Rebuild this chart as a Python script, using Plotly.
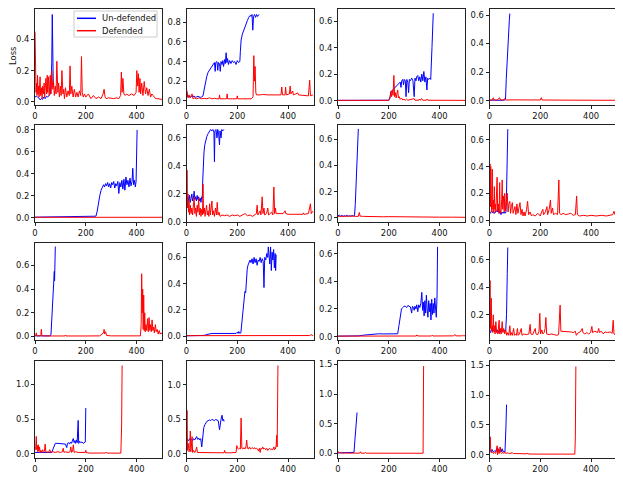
import plotly.graph_objects as go

# training loss per iteration, (iteration, loss) pairs
# u = un-defended model, d = defended model, one pair per panel (row-major)

u1 = [(0, 0.03), (5, 0.035), (10, 0.03), (15, 0.025), (20, 0.012), (25, 0.02), (30, 0.015), (35, 0.03),
      (40, 0.02), (45, 0.035), (50, 0.03), (55, 0.04), (60, 0.05), (63, 0.1), (66, 0.25), (68, 0.56),
      (70, 0.2), (72, 0.1)]
d1 = [(0, 0.45), (2, 0.2), (4, 0.06), (6, 0.12), (8, 0.04), (10, 0.17), (12, 0.05), (14, 0.1), (16, 0.03),
      (18, 0.08), (20, 0.16), (22, 0.04), (25, 0.09), (28, 0.02), (30, 0.1), (33, 0.05), (36, 0.12),
      (38, 0.03), (40, 0.07), (43, 0.15), (46, 0.05), (48, 0.17), (50, 0.06), (53, 0.16), (56, 0.04),
      (58, 0.12), (60, 0.17), (63, 0.05), (66, 0.2), (70, 0.08), (73, 0.13), (76, 0.04), (80, 0.1),
      (83, 0.05), (86, 0.26), (90, 0.06), (93, 0.12), (96, 0.03), (100, 0.1), (103, 0.04), (106, 0.2),
      (110, 0.05), (113, 0.08), (116, 0.02), (120, 0.09), (125, 0.03), (130, 0.07), (135, 0.04),
      (138, 0.23), (141, 0.05), (145, 0.1), (150, 0.03), (155, 0.08), (160, 0.03), (165, 0.06),
      (170, 0.03), (175, 0.07), (180, 0.04), (183, 0.29), (186, 0.06), (190, 0.03), (195, 0.05),
      (200, 0.03), (210, 0.05), (220, 0.02), (230, 0.04), (240, 0.02), (250, 0.03), (260, 0.02),
      (268, 0.05), (272, 0.08), (276, 0.03), (280, 0.02), (290, 0.025), (300, 0.02), (310, 0.02),
      (320, 0.025), (330, 0.02), (337, 0.04), (340, 0.19), (343, 0.06), (346, 0.15), (350, 0.05),
      (355, 0.04), (360, 0.05), (370, 0.04), (380, 0.05), (390, 0.04), (398, 0.06), (401, 0.2),
      (404, 0.1), (407, 0.18), (410, 0.06), (413, 0.15), (416, 0.05), (420, 0.12), (425, 0.04),
      (430, 0.13), (435, 0.05), (440, 0.09), (445, 0.04), (450, 0.08), (455, 0.03), (460, 0.05),
      (465, 0.04), (470, 0.03), (475, 0.02), (480, 0.02), (490, 0.015), (500, 0.015)]

u2 = [(0, 0.1), (2, 0.05), (5, 0.04), (10, 0.05), (15, 0.035), (20, 0.045), (25, 0.04), (30, 0.05),
      (35, 0.035), (40, 0.04), (45, 0.045), (50, 0.04), (55, 0.035), (60, 0.04), (65, 0.05), (70, 0.12),
      (75, 0.2), (80, 0.25), (85, 0.29), (90, 0.31), (95, 0.34), (100, 0.36), (105, 0.38), (110, 0.39),
      (113, 0.3), (115, 0.39), (120, 0.4), (123, 0.31), (126, 0.39), (130, 0.38), (133, 0.3), (136, 0.4),
      (140, 0.37), (143, 0.41), (146, 0.35), (150, 0.42), (153, 0.38), (156, 0.49), (159, 0.39),
      (162, 0.43), (165, 0.37), (170, 0.41), (175, 0.38), (180, 0.41), (185, 0.39), (190, 0.4),
      (195, 0.37), (200, 0.41), (205, 0.39), (210, 0.4), (212, 0.5), (215, 0.62), (220, 0.68),
      (225, 0.72), (230, 0.75), (235, 0.8), (240, 0.82), (245, 0.85), (250, 0.87), (255, 0.86),
      (258, 0.88), (261, 0.72), (264, 0.86), (268, 0.88), (272, 0.85), (276, 0.88), (280, 0.86),
      (285, 0.88)]
d2 = [(0, 0.12), (3, 0.04), (6, 0.03), (10, 0.06), (14, 0.03), (18, 0.05), (22, 0.07), (26, 0.02),
      (30, 0.03), (40, 0.02), (50, 0.03), (60, 0.02), (70, 0.025), (80, 0.02), (90, 0.03), (100, 0.02),
      (110, 0.025), (120, 0.02), (128, 0.02), (130, 0.06), (132, 0.02), (150, 0.02), (158, 0.02),
      (160, 0.07), (162, 0.02), (180, 0.02), (198, 0.02), (200, 0.05), (202, 0.02), (220, 0.02),
      (240, 0.02), (255, 0.02), (262, 0.04), (265, 0.46), (268, 0.2), (270, 0.35), (273, 0.08),
      (276, 0.06), (290, 0.06), (300, 0.065), (320, 0.06), (340, 0.06), (360, 0.055), (372, 0.06),
      (375, 0.14), (378, 0.06), (388, 0.06), (390, 0.14), (393, 0.06), (405, 0.07), (408, 0.15),
      (411, 0.07), (418, 0.1), (421, 0.06), (430, 0.07), (438, 0.08), (441, 0.06), (460, 0.055),
      (470, 0.05), (480, 0.05), (485, 0.21), (488, 0.05), (495, 0.06), (500, 0.05)]

u3 = [(0, 0.002), (50, 0.002), (100, 0.002), (140, 0.004), (180, 0.002), (200, 0.003), (205, 0.03),
      (210, 0.07), (215, 0.08), (220, 0.09), (225, 0.1), (230, 0.11), (235, 0.12), (240, 0.13),
      (245, 0.14), (248, 0.1), (251, 0.15), (255, 0.16), (258, 0.12), (261, 0.16), (265, 0.15),
      (268, 0.03), (271, 0.16), (275, 0.14), (278, 0.06), (281, 0.16), (285, 0.15), (290, 0.17),
      (295, 0.15), (300, 0.03), (303, 0.17), (307, 0.15), (310, 0.18), (314, 0.19), (318, 0.15),
      (322, 0.18), (326, 0.14), (330, 0.2), (334, 0.15), (338, 0.22), (342, 0.14), (346, 0.18),
      (350, 0.08), (353, 0.17), (357, 0.16), (362, 0.17), (365, 0.16), (370, 0.4), (375, 0.66)]
d3 = [(0, 0.002), (100, 0.002), (200, 0.002), (205, 0.02), (208, 0.07), (211, 0.03), (214, 0.08),
      (217, 0.04), (220, 0.19), (223, 0.03), (226, 0.06), (229, 0.02), (232, 0.05), (235, 0.08),
      (238, 0.02), (241, 0.03), (245, 0.01), (250, 0.02), (255, 0.005), (260, 0.01), (265, 0.003),
      (270, 0.012), (275, 0.003), (300, 0.015), (303, 0.003), (318, 0.003), (320, 0.012), (323, 0.003),
      (330, 0.015), (333, 0.003), (348, 0.003), (350, 0.012), (353, 0.003), (400, 0.002), (500, 0.002)]

u4 = [(0, 0.003), (10, 0.002), (20, 0.004), (30, 0.002), (40, 0.003), (50, 0.002), (60, 0.003),
      (63, 0.01), (66, 0.15), (70, 0.32), (74, 0.45), (78, 0.56), (80, 0.61)]
d4 = [(0, 0.003), (10, 0.004), (15, 0.02), (18, 0.004), (30, 0.004), (40, 0.02), (43, 0.004),
      (55, 0.005), (60, 0.015), (63, 0.004), (100, 0.005), (150, 0.004), (200, 0.004), (204, 0.02),
      (207, 0.004), (300, 0.003), (400, 0.003), (500, 0.002)]

u5 = [(0, 0.004), (50, 0.005), (100, 0.008), (150, 0.01), (200, 0.011), (230, 0.012), (240, 0.013),
      (245, 0.06), (250, 0.15), (255, 0.2), (260, 0.25), (265, 0.27), (270, 0.3), (274, 0.28),
      (278, 0.31), (282, 0.29), (286, 0.32), (290, 0.28), (294, 0.31), (298, 0.27), (302, 0.32),
      (306, 0.3), (310, 0.33), (314, 0.27), (318, 0.31), (322, 0.29), (326, 0.33), (330, 0.22),
      (334, 0.32), (338, 0.28), (342, 0.34), (346, 0.26), (350, 0.35), (354, 0.25), (358, 0.37),
      (362, 0.3), (366, 0.34), (370, 0.28), (374, 0.36), (378, 0.29), (382, 0.33), (385, 0.45),
      (388, 0.3), (392, 0.34), (395, 0.28), (398, 0.33), (400, 0.55), (402, 0.8)]
d5 = [(0, 0.003), (100, 0.003), (200, 0.003), (300, 0.003), (400, 0.003), (500, 0.003)]

u6 = [(0, 0.17), (3, 0.13), (6, 0.18), (9, 0.15), (12, 0.19), (15, 0.14), (18, 0.17), (21, 0.2),
      (24, 0.15), (27, 0.17), (30, 0.22), (33, 0.16), (36, 0.18), (39, 0.15), (42, 0.19), (45, 0.16),
      (48, 0.18), (51, 0.15), (54, 0.17), (57, 0.14), (60, 0.18), (62, 0.17), (64, 0.3), (66, 0.42),
      (69, 0.5), (72, 0.55), (76, 0.59), (80, 0.61), (85, 0.63), (90, 0.65), (95, 0.66), (100, 0.65),
      (104, 0.66), (108, 0.64), (110, 0.43), (112, 0.65), (116, 0.66), (120, 0.6), (123, 0.66),
      (126, 0.64), (130, 0.55), (132, 0.65), (136, 0.6), (139, 0.66), (143, 0.65), (147, 0.66)]
d6 = [(0, 0.12), (2, 0.37), (4, 0.1), (6, 0.2), (8, 0.07), (10, 0.15), (12, 0.05), (15, 0.12), (18, 0.06),
      (21, 0.1), (24, 0.05), (27, 0.14), (30, 0.18), (33, 0.06), (36, 0.1), (39, 0.04), (42, 0.12),
      (45, 0.07), (48, 0.17), (51, 0.05), (54, 0.1), (57, 0.04), (60, 0.09), (63, 0.05), (65, 0.27),
      (67, 0.06), (70, 0.1), (73, 0.04), (76, 0.08), (79, 0.12), (82, 0.05), (85, 0.08), (88, 0.04),
      (91, 0.13), (94, 0.05), (97, 0.1), (100, 0.15), (103, 0.05), (106, 0.08), (110, 0.04), (114, 0.1),
      (118, 0.05), (121, 0.14), (124, 0.05), (128, 0.07), (132, 0.04), (140, 0.05), (150, 0.045),
      (160, 0.05), (170, 0.04), (180, 0.05), (190, 0.045), (200, 0.05), (210, 0.04), (220, 0.05),
      (230, 0.06), (240, 0.045), (250, 0.05), (260, 0.04), (270, 0.05), (275, 0.06), (278, 0.12),
      (281, 0.05), (290, 0.08), (293, 0.05), (298, 0.18), (301, 0.06), (305, 0.1), (308, 0.05),
      (315, 0.06), (320, 0.1), (323, 0.05), (330, 0.06), (335, 0.07), (340, 0.05), (344, 0.25),
      (347, 0.06), (350, 0.1), (353, 0.06), (360, 0.06), (370, 0.055), (380, 0.06), (388, 0.08),
      (391, 0.06), (400, 0.055), (420, 0.055), (440, 0.06), (458, 0.055), (460, 0.065), (463, 0.055),
      (480, 0.06), (488, 0.13), (491, 0.06), (495, 0.075), (500, 0.07)]

u7 = [(0, 0.015), (5, 0.02), (10, 0.012), (15, 0.018), (20, 0.01), (25, 0.016), (30, 0.012), (35, 0.018),
      (40, 0.011), (45, 0.015), (50, 0.012), (55, 0.016), (60, 0.013), (65, 0.015), (68, 0.1),
      (72, 0.35), (76, 0.55), (80, 0.68)]
d7 = [(0, 0.01), (20, 0.012), (40, 0.01), (60, 0.012), (70, 0.01), (80, 0.01), (84, 0.04), (87, 0.012),
      (100, 0.01), (120, 0.008), (150, 0.009), (180, 0.007), (200, 0.008), (250, 0.006), (300, 0.005),
      (350, 0.005), (400, 0.004), (450, 0.004), (500, 0.003)]

u8 = [(0, 0.06), (4, 0.05), (8, 0.07), (12, 0.055), (16, 0.065), (20, 0.05), (24, 0.06), (28, 0.07),
      (32, 0.06), (35, 0.09), (38, 0.05), (41, 0.07), (45, 0.04), (49, 0.06), (53, 0.05), (57, 0.06),
      (61, 0.05), (65, 0.06), (67, 0.2), (70, 0.5), (72, 0.68)]
d8 = [(0, 0.1), (2, 0.42), (4, 0.1), (5, 0.4), (7, 0.14), (9, 0.06), (11, 0.38), (13, 0.08), (15, 0.15),
      (17, 0.05), (19, 0.25), (21, 0.08), (23, 0.12), (25, 0.06), (27, 0.15), (30, 0.32), (32, 0.07),
      (35, 0.12), (38, 0.05), (40, 0.28), (42, 0.06), (45, 0.05), (48, 0.15), (50, 0.3), (52, 0.08),
      (55, 0.18), (58, 0.06), (60, 0.2), (63, 0.07), (66, 0.12), (70, 0.2), (73, 0.06), (76, 0.12),
      (80, 0.14), (83, 0.05), (86, 0.1), (90, 0.13), (93, 0.05), (96, 0.08), (100, 0.1), (104, 0.04),
      (108, 0.12), (112, 0.05), (116, 0.08), (120, 0.13), (124, 0.04), (128, 0.08), (132, 0.03),
      (136, 0.06), (140, 0.03), (146, 0.08), (150, 0.14), (154, 0.04), (160, 0.06), (165, 0.03),
      (170, 0.04), (180, 0.03), (190, 0.05), (200, 0.03), (205, 0.06), (210, 0.08), (213, 0.04),
      (220, 0.06), (226, 0.1), (229, 0.04), (235, 0.08), (240, 0.15), (243, 0.05), (248, 0.09),
      (252, 0.04), (260, 0.05), (268, 0.04), (273, 0.3), (276, 0.05), (282, 0.04), (290, 0.05),
      (300, 0.04), (310, 0.045), (320, 0.05), (330, 0.035), (338, 0.04), (343, 0.18), (346, 0.04),
      (355, 0.03), (370, 0.035), (385, 0.03), (400, 0.035), (420, 0.03), (440, 0.035), (460, 0.03),
      (475, 0.035), (485, 0.04), (490, 0.065), (494, 0.04), (500, 0.05)]

u9 = [(0, 0.005), (20, 0.004), (40, 0.005), (60, 0.005), (63, 0.02), (66, 0.15), (70, 0.3), (74, 0.48),
      (76, 0.55), (77, 0.47), (78, 0.56), (80, 0.76)]
d9 = [(0, 0.005), (3, 0.01), (5, 0.03), (7, 0.005), (20, 0.005), (23, 0.015), (25, 0.06), (27, 0.005),
      (60, 0.004), (100, 0.005), (118, 0.004), (120, 0.012), (122, 0.004), (200, 0.004), (255, 0.005),
      (260, 0.015), (265, 0.02), (270, 0.03), (272, 0.06), (274, 0.02), (278, 0.04), (282, 0.008),
      (300, 0.005), (350, 0.004), (400, 0.004), (415, 0.005), (418, 0.1), (420, 0.53), (422, 0.2),
      (424, 0.4), (426, 0.06), (428, 0.35), (430, 0.05), (432, 0.2), (434, 0.04), (437, 0.1),
      (440, 0.05), (443, 0.15), (446, 0.04), (449, 0.16), (452, 0.05), (455, 0.1), (458, 0.04),
      (461, 0.14), (464, 0.05), (467, 0.08), (470, 0.03), (474, 0.1), (477, 0.04), (481, 0.06),
      (485, 0.02), (489, 0.05), (493, 0.02), (497, 0.03), (500, 0.02)]

u10 = [(0, 0.002), (30, 0.002), (60, 0.003), (70, 0.005), (80, 0.012), (90, 0.018), (100, 0.02),
       (120, 0.02), (140, 0.021), (160, 0.02), (180, 0.021), (195, 0.02), (200, 0.03), (203, 0.02),
       (206, 0.035), (210, 0.02), (214, 0.025), (218, 0.12), (222, 0.2), (226, 0.28), (230, 0.34),
       (233, 0.33), (236, 0.45), (239, 0.51), (242, 0.54), (246, 0.56), (250, 0.58), (254, 0.56),
       (258, 0.59), (262, 0.55), (266, 0.6), (270, 0.56), (274, 0.59), (278, 0.54), (282, 0.58),
       (286, 0.57), (290, 0.6), (294, 0.56), (298, 0.59), (302, 0.57), (305, 0.37), (308, 0.6),
       (312, 0.58), (316, 0.63), (320, 0.6), (322, 0.68), (325, 0.6), (328, 0.55), (331, 0.68),
       (334, 0.5), (337, 0.64), (340, 0.58), (343, 0.66), (346, 0.52), (349, 0.63), (351, 0.5),
       (353, 0.62)]
d10 = [(0, 0.003), (100, 0.003), (200, 0.003), (300, 0.003), (400, 0.003), (485, 0.004), (490, 0.012),
       (495, 0.004), (500, 0.006)]

u11 = [(0, 0.003), (40, 0.003), (80, 0.005), (100, 0.01), (120, 0.015), (140, 0.018), (160, 0.02),
       (180, 0.019), (200, 0.02), (220, 0.019), (235, 0.02), (240, 0.08), (245, 0.15), (250, 0.2),
       (255, 0.21), (260, 0.22), (265, 0.22), (270, 0.21), (275, 0.225), (280, 0.22), (285, 0.215),
       (290, 0.17), (293, 0.22), (297, 0.21), (300, 0.19), (303, 0.22), (307, 0.2), (310, 0.23),
       (314, 0.18), (318, 0.23), (322, 0.21), (326, 0.24), (330, 0.32), (333, 0.19), (336, 0.25),
       (339, 0.15), (342, 0.26), (345, 0.17), (348, 0.3), (351, 0.2), (354, 0.14), (357, 0.26),
       (360, 0.18), (363, 0.24), (366, 0.12), (369, 0.27), (372, 0.16), (375, 0.24), (378, 0.17),
       (381, 0.28), (384, 0.2), (387, 0.14), (390, 0.3), (392, 0.65)]
d11 = [(0, 0.003), (100, 0.003), (200, 0.003), (300, 0.004), (308, 0.004), (311, 0.012), (314, 0.004),
       (368, 0.004), (371, 0.01), (374, 0.004), (455, 0.005), (460, 0.015), (464, 0.005), (488, 0.005),
       (491, 0.01), (495, 0.005), (500, 0.006)]

u12 = [(0, 0.08), (4, 0.07), (8, 0.1), (12, 0.08), (16, 0.09), (20, 0.075), (24, 0.1), (28, 0.08),
       (32, 0.09), (36, 0.07), (40, 0.085), (44, 0.075), (48, 0.09), (52, 0.08), (56, 0.09), (60, 0.08),
       (64, 0.09), (67, 0.2), (70, 0.5), (72, 0.69)]
d12 = [(0, 0.1), (2, 0.45), (4, 0.1), (6, 0.2), (7, 0.32), (9, 0.08), (11, 0.12), (13, 0.07), (15, 0.2),
       (17, 0.08), (20, 0.12), (22, 0.06), (25, 0.15), (28, 0.07), (30, 0.08), (33, 0.06), (36, 0.12),
       (38, 0.16), (40, 0.06), (43, 0.1), (46, 0.06), (50, 0.15), (53, 0.07), (56, 0.1), (60, 0.06),
       (64, 0.09), (68, 0.05), (72, 0.07), (76, 0.05), (80, 0.12), (83, 0.05), (86, 0.07), (90, 0.05),
       (95, 0.1), (98, 0.05), (102, 0.06), (106, 0.05), (110, 0.1), (113, 0.05), (118, 0.06), (125, 0.1),
       (128, 0.05), (135, 0.06), (145, 0.055), (155, 0.06), (160, 0.13), (163, 0.06), (170, 0.055),
       (180, 0.1), (183, 0.06), (190, 0.055), (195, 0.08), (198, 0.21), (201, 0.06), (206, 0.09),
       (210, 0.06), (215, 0.07), (219, 0.1), (222, 0.18), (225, 0.06), (235, 0.055), (245, 0.06),
       (255, 0.055), (265, 0.05), (272, 0.055), (278, 0.27), (281, 0.08), (290, 0.08), (300, 0.075),
       (310, 0.08), (320, 0.075), (330, 0.07), (338, 0.08), (342, 0.05), (350, 0.07), (358, 0.075),
       (365, 0.1), (368, 0.07), (375, 0.06), (383, 0.07), (390, 0.06), (398, 0.07), (403, 0.115),
       (406, 0.07), (415, 0.08), (425, 0.07), (430, 0.1), (433, 0.07), (440, 0.08), (448, 0.06),
       (455, 0.075), (465, 0.07), (475, 0.075), (483, 0.065), (487, 0.16), (490, 0.06), (495, 0.055),
       (500, 0.05)]

u13 = [(0, 0.02), (10, 0.02), (20, 0.02), (30, 0.02), (40, 0.02), (50, 0.02), (60, 0.02), (66, 0.02),
       (70, 0.06), (75, 0.12), (80, 0.15), (90, 0.15), (100, 0.15), (110, 0.14), (115, 0.15), (120, 0.14),
       (125, 0.09), (128, 0.15), (132, 0.16), (136, 0.14), (140, 0.17), (144, 0.15), (148, 0.2),
       (151, 0.22), (154, 0.16), (157, 0.19), (160, 0.15), (163, 0.2), (166, 0.16), (170, 0.48),
       (172, 0.15), (176, 0.18), (180, 0.16), (185, 0.17), (190, 0.15), (195, 0.16), (198, 0.17),
       (200, 0.66)]
d13 = [(0, 0.05), (3, 0.1), (5, 0.25), (7, 0.06), (9, 0.12), (11, 0.03), (13, 0.13), (15, 0.04),
       (18, 0.1), (20, 0.02), (23, 0.05), (26, 0.02), (30, 0.06), (33, 0.02), (37, 0.04), (40, 0.14),
       (43, 0.02), (48, 0.03), (53, 0.02), (58, 0.06), (62, 0.02), (70, 0.03), (80, 0.02), (90, 0.03),
       (100, 0.02), (108, 0.03), (111, 0.08), (114, 0.02), (120, 0.03), (130, 0.02), (138, 0.03),
       (141, 0.1), (144, 0.02), (148, 0.04), (151, 0.13), (154, 0.02), (160, 0.03), (170, 0.02),
       (180, 0.02), (190, 0.02), (198, 0.02), (200, 0.05), (203, 0.015), (220, 0.01), (240, 0.012),
       (260, 0.01), (278, 0.012), (281, 0.025), (284, 0.01), (300, 0.01), (320, 0.012), (338, 0.01),
       (341, 0.4), (343, 1.27)]

u14 = [(0, 0.2), (4, 0.21), (8, 0.19), (12, 0.22), (16, 0.2), (20, 0.21), (24, 0.19), (28, 0.22),
       (32, 0.2), (36, 0.23), (40, 0.25), (44, 0.21), (48, 0.23), (52, 0.2), (56, 0.22), (60, 0.1),
       (62, 0.2), (65, 0.3), (68, 0.38), (72, 0.42), (76, 0.45), (80, 0.47), (85, 0.48), (90, 0.49),
       (95, 0.48), (100, 0.5), (105, 0.49), (110, 0.48), (115, 0.5), (120, 0.49), (125, 0.48),
       (130, 0.35), (133, 0.49), (136, 0.5), (140, 0.56), (143, 0.48), (146, 0.5), (148, 0.47)]
d14 = [(0, 0.1), (2, 0.63), (4, 0.05), (7, 0.15), (10, 0.03), (13, 0.08), (15, 0.33), (17, 0.03),
       (19, 0.1), (22, 0.25), (24, 0.02), (28, 0.05), (32, 0.02), (36, 0.04), (40, 0.1), (43, 0.02),
       (50, 0.02), (60, 0.015), (70, 0.02), (80, 0.015), (90, 0.02), (100, 0.015), (110, 0.02),
       (120, 0.015), (130, 0.015), (140, 0.02), (148, 0.015), (150, 0.05), (152, 0.015), (170, 0.015),
       (185, 0.015), (195, 0.02), (198, 0.12), (201, 0.08), (205, 0.07), (209, 0.08), (212, 0.07),
       (215, 0.52), (218, 0.08), (222, 0.07), (226, 0.09), (230, 0.07), (234, 0.1), (237, 0.2),
       (240, 0.08), (244, 0.07), (248, 0.1), (252, 0.07), (256, 0.08), (260, 0.09), (264, 0.07),
       (268, 0.09), (272, 0.07), (276, 0.08), (280, 0.07), (284, 0.04), (287, 0.08), (290, 0.02),
       (293, 0.08), (297, 0.07), (300, 0.1), (304, 0.07), (308, 0.08), (312, 0.06), (316, 0.08),
       (320, 0.05), (324, 0.07), (328, 0.08), (332, 0.06), (336, 0.07), (340, 0.06), (344, 0.1),
       (347, 0.06), (350, 0.07), (353, 0.12), (355, 0.27), (357, 0.1), (359, 0.5), (360, 1.28)]

u15 = [(0, 0.01), (10, 0.01), (20, 0.012), (30, 0.01), (40, 0.015), (50, 0.01), (60, 0.01), (63, 0.02),
       (67, 0.25), (71, 0.5), (75, 0.69)]
d15 = [(0, 0.04), (3, 0.01), (8, 0.02), (12, 0.008), (30, 0.008), (60, 0.006), (85, 0.006), (88, 0.03),
       (91, 0.006), (105, 0.006), (108, 0.02), (111, 0.006), (150, 0.005), (200, 0.005), (250, 0.005),
       (300, 0.005), (335, 0.005), (337, 1.47)]

u16 = [(0, 0.05), (4, 0.06), (8, 0.05), (10, 0.09), (13, 0.06), (17, 0.05), (21, 0.07), (25, 0.05),
       (28, 0.1), (30, 0.12), (33, 0.05), (36, 0.07), (40, 0.05), (43, 0.12), (46, 0.05), (50, 0.1),
       (53, 0.05), (57, 0.06), (61, 0.05), (63, 0.2), (65, 0.5), (67, 0.84)]
d16 = [(0, 0.05), (3, 0.3), (5, 0.05), (8, 0.03), (12, 0.05), (16, 0.02), (20, 0.04), (24, 0.02),
       (27, 0.06), (30, 0.15), (32, 0.0), (35, 0.1), (38, 0.02), (42, 0.13), (44, 0.04), (48, 0.02),
       (52, 0.04), (56, 0.02), (60, 0.05), (64, 0.02), (70, 0.03), (80, 0.02), (90, 0.035), (93, 0.02),
       (100, 0.02), (120, 0.015), (148, 0.015), (150, 0.03), (152, 0.012), (200, 0.01), (250, 0.01),
       (300, 0.01), (336, 0.01), (338, 0.3), (340, 1.48)]

UNDEFENDED = [u1, u2, u3, u4, u5, u6, u7, u8, u9, u10, u11, u12, u13, u14, u15, u16]
DEFENDED = [d1, d2, d3, d4, d5, d6, d7, d8, d9, d10, d11, d12, d13, d14, d15, d16]

SERIES_NAMES = ["Un-defended", "Defended"]
SERIES_COLORS = ["#0000ff", "#ff0000"]

# y limits per panel (matplotlib autoscale as seen in the figure)
Y_RANGES = [
    [-0.021, 0.598], [-0.043, 0.94], [-0.033, 0.695], [-0.031, 0.645],
    [-0.04, 0.845], [0.0, 0.692], [-0.033, 0.71], [-0.015, 0.711],
    [-0.03, 0.79], [-0.03, 0.71], [-0.025, 0.678], [0.016, 0.723],
    [-0.06, 1.335], [-0.06, 1.345], [-0.075, 1.555], [-0.055, 1.572],
]
Y_DTICK = [0.2] * 12 + [0.5] * 4

# ---------------------------------------------------------------------------

# the page body adds an 8px margin, so lay out in window pixels minus that
PAD = 8
W, H = 623 - PAD, 478 - PAD
COL_LEFT = [35, 186.5, 338, 489.5]
COL_W = 127
ROW_TOP = [8.6, 125, 243, 361]
ROW_H = 97


def px_x(v):
    return min(1.0, max(0.0, (v - PAD) / W))


def px_y(v):
    return min(1.0, max(0.0, 1 - (v - PAD) / H))


FONT = "DejaVu Sans"
FS = 8.4

fig = go.Figure()
layout = {}

for i in range(16):
    r, c = divmod(i, 4)
    n = "" if i == 0 else str(i + 1)
    for pts, name, color in zip((UNDEFENDED[i], DEFENDED[i]), SERIES_NAMES, SERIES_COLORS):
        xs, ys = zip(*pts)
        fig.add_trace(go.Scatter(
            x=xs, y=ys, mode="lines", name=name,
            line=dict(color=color, width=1),
            xaxis="x" + n, yaxis="y" + n, showlegend=False,
        ))

    common = dict(
        showgrid=False, zeroline=False, showline=True, mirror=True,
        linecolor="#222", linewidth=0.8, ticks="outside", ticklen=3,
        tickwidth=0.8, tickcolor="#222", automargin=False,
        tickfont=dict(family=FONT, size=FS, color="#111"),
    )
    top = ROW_TOP[r] if r else ROW_TOP[0]
    layout["xaxis" + n] = dict(
        domain=[px_x(COL_LEFT[c]), px_x(COL_LEFT[c] + COL_W)],
        anchor="y" + n, range=[0, 500], tickvals=[0, 200, 400], **common,
    )
    layout["yaxis" + n] = dict(
        domain=[px_y(top + ROW_H - (0.6 if r == 0 else 0)), px_y(top)],
        anchor="x" + n, range=Y_RANGES[i],
        dtick=Y_DTICK[i], tick0=0, tickformat=".1f", **common,
    )

# matplotlib-style legend box in the first panel
LEG_BOX = (74, 11, 157, 37)
LEG_ROWS = [18.3, 30.7]

shapes = [dict(
    type="rect", xref="paper", yref="paper", layer="above",
    x0=px_x(LEG_BOX[0]), x1=px_x(LEG_BOX[2]), y0=px_y(LEG_BOX[3]), y1=px_y(LEG_BOX[1]),
    fillcolor="rgba(255,255,255,0.85)", line=dict(color="#cccccc", width=1),
)]
annotations = []
for yy, name, color in zip(LEG_ROWS, SERIES_NAMES, SERIES_COLORS):
    shapes.append(dict(
        type="line", xref="paper", yref="paper", layer="above",
        x0=px_x(77), x1=px_x(96), y0=px_y(yy), y1=px_y(yy),
        line=dict(color=color, width=1.5),
    ))
    annotations.append(dict(
        text=name, showarrow=False, xref="paper", yref="paper",
        x=px_x(99.5), y=px_y(yy), xanchor="left", yanchor="middle",
        font=dict(family=FONT, size=FS, color="#111"),
    ))

# y label; the page edge is 8px in, so keep it just inside
annotations.append(dict(
    text="Loss", textangle=-90, showarrow=False,
    xref="paper", yref="paper", x=px_x(13.5), y=px_y(56.5),
    xanchor="center", yanchor="middle",
    font=dict(family=FONT, size=FS, color="#111"),
))

fig.update_layout(
    width=W, height=H,
    margin=dict(l=0, r=0, t=0, b=0, autoexpand=False),
    paper_bgcolor="white", plot_bgcolor="white",
    showlegend=False,
    shapes=shapes,
    annotations=annotations,
    **layout,
)

fig.write_html("out.html")
